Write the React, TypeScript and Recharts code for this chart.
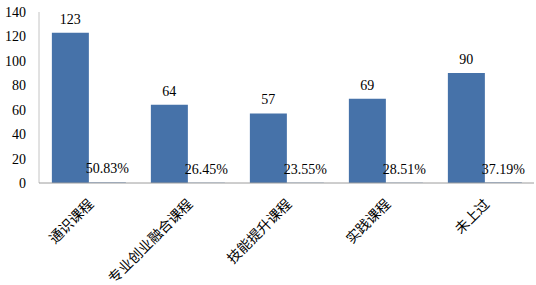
import React from 'react';
import { BarChart, Bar, XAxis, YAxis, LabelList } from 'recharts';

const categories = ['通识课程', '专业创业融合课程', '技能提升课程', '实践课程', '未上过'];
const counts = [123, 64, 57, 69, 90];
const shares = [0.5083, 0.2645, 0.2355, 0.2851, 0.3719];
const yTicks = [0, 20, 40, 60, 80, 100, 120, 140];

const data = categories.map((name, i) => ({ name, count: counts[i], share: shares[i] }));

const numFont = '"Liberation Serif", "Times New Roman", serif';
const cjkFont = '"Liberation Serif", "Noto Sans CJK SC", serif';

const CategoryTick = ({ x, y, payload }: any) => (
    <g transform={`translate(${x + 6},${y + 14})`}>
        <text transform="rotate(-45)" textAnchor="end" fontSize={14} fontFamily={cjkFont} fill="#000">
            {payload.value}
        </text>
    </g>
);

const App: React.FC = () => (
    <div style={{ position: 'absolute', left: 0, top: 0, width: 536, height: 285, background: '#fff' }}>
        <BarChart
            width={536}
            height={285}
            data={data}
            margin={{ top: 12, right: 2, bottom: 0, left: 0 }}
            barCategoryGap="13%"
            barGap={0}
        >
            <YAxis
                domain={[0, 140]}
                ticks={yTicks}
                width={39}
                tickLine={false}
                tickMargin={7}
                axisLine={{ stroke: '#c4c4c4' }}
                tick={{ fontSize: 14, fontFamily: numFont, fill: '#000' }}
            />
            <XAxis
                dataKey="name"
                height={102}
                interval={0}
                tickLine={false}
                axisLine={{ stroke: '#9c9c9c' }}
                tick={<CategoryTick />}
            />
            <Bar dataKey="count" fill="#4672a9" isAnimationActive={false}>
                <LabelList dataKey="count" position="top" offset={9} fontSize={14} fontFamily={numFont} fill="#000" />
            </Bar>
            <Bar dataKey="share" fill="#4672a9" isAnimationActive={false}>
                <LabelList
                    dataKey="share"
                    position="top"
                    offset={9}
                    fontSize={14}
                    fontFamily={numFont}
                    fill="#000"
                    formatter={(v: any) => `${(Number(v) * 100).toFixed(2)}%`}
                />
            </Bar>
        </BarChart>
    </div>
);

export default App;
